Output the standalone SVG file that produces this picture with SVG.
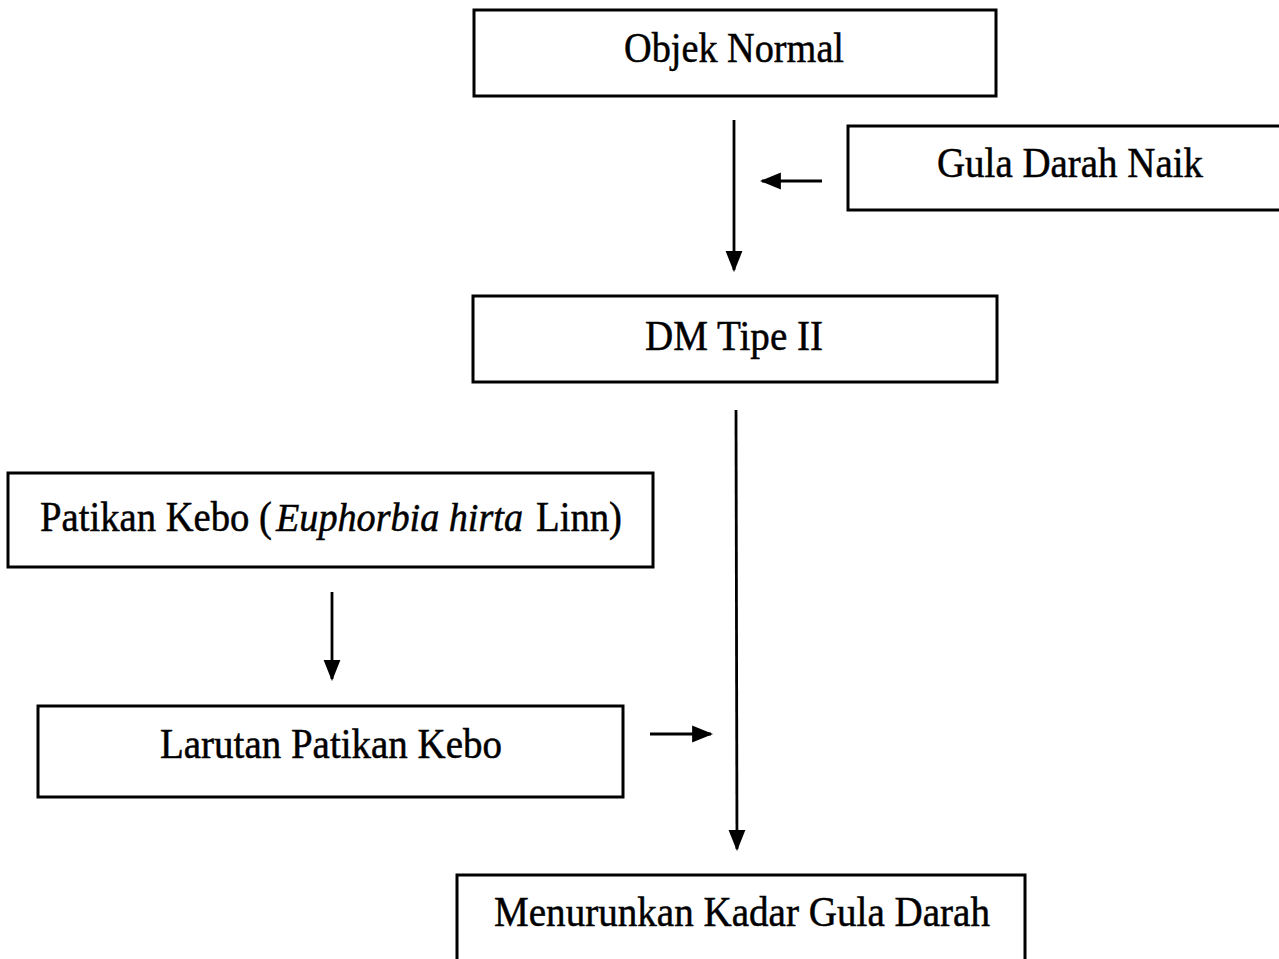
<svg xmlns="http://www.w3.org/2000/svg" width="1279" height="959" viewBox="0 0 1279 959">
<defs>
<style>
.box{fill:#fff;stroke:#000;stroke-width:3}
.lbl{font-family:"Liberation Serif","Times New Roman",serif;font-size:43px;fill:#000;stroke:#000;stroke-width:0.5;text-anchor:middle}
.st{text-anchor:start}
.it{font-style:italic;font-size:40px}
.con{stroke:#000;stroke-width:2.8;fill:none}
</style>
<marker id="ahb" viewBox="0 0 10 10" refX="9" refY="5" markerWidth="21" markerHeight="21" markerUnits="userSpaceOnUse" orient="auto">
<path d="M0,1 L10,5 L0,9 z" fill="#000"/>
</marker>
</defs>
<rect width="1279" height="959" fill="#fff"/>
<g id="connectors">
<line class="con" x1="734" y1="120" x2="734" y2="270" marker-end="url(#ahb)"/>
<line class="con" x1="822" y1="181" x2="762" y2="181" marker-end="url(#ahb)"/>
<line class="con" x1="736" y1="410" x2="737" y2="849" marker-end="url(#ahb)"/>
<line class="con" x1="332" y1="592" x2="332" y2="679" marker-end="url(#ahb)"/>
<line class="con" x1="650" y1="734" x2="711" y2="734" marker-end="url(#ahb)"/>
</g>
<g id="objek-normal">
<rect class="box" x="474" y="10" width="522" height="86"/>
<text class="lbl" x="734" y="62" textLength="220" lengthAdjust="spacingAndGlyphs">Objek Normal</text>
</g>
<g id="gula-darah-naik">
<rect class="box" x="848" y="126" width="440" height="84"/>
<text class="lbl" x="1070" y="177" textLength="266" lengthAdjust="spacingAndGlyphs">Gula Darah Naik</text>
</g>
<g id="dm-tipe-ii">
<rect class="box" x="473" y="296" width="524" height="86"/>
<text class="lbl" x="734" y="350" textLength="178" lengthAdjust="spacingAndGlyphs">DM Tipe II</text>
</g>
<g id="patikan-kebo">
<rect class="box" x="8" y="473" width="645" height="94"/>
<text class="lbl st" x="40" y="531" textLength="232" lengthAdjust="spacingAndGlyphs">Patikan Kebo (</text>
<text class="lbl st it" x="276" y="531" textLength="247" lengthAdjust="spacingAndGlyphs">Euphorbia hirta</text>
<text class="lbl st" x="536" y="531" textLength="86" lengthAdjust="spacingAndGlyphs">Linn)</text>
</g>
<g id="larutan-patikan-kebo">
<rect class="box" x="38" y="706" width="585" height="91"/>
<text class="lbl" x="331" y="758" textLength="342" lengthAdjust="spacingAndGlyphs">Larutan Patikan Kebo</text>
</g>
<g id="menurunkan">
<rect class="box" x="457" y="875" width="568" height="100"/>
<text class="lbl" x="742" y="926" textLength="496" lengthAdjust="spacingAndGlyphs">Menurunkan Kadar Gula Darah</text>
</g>
</svg>
